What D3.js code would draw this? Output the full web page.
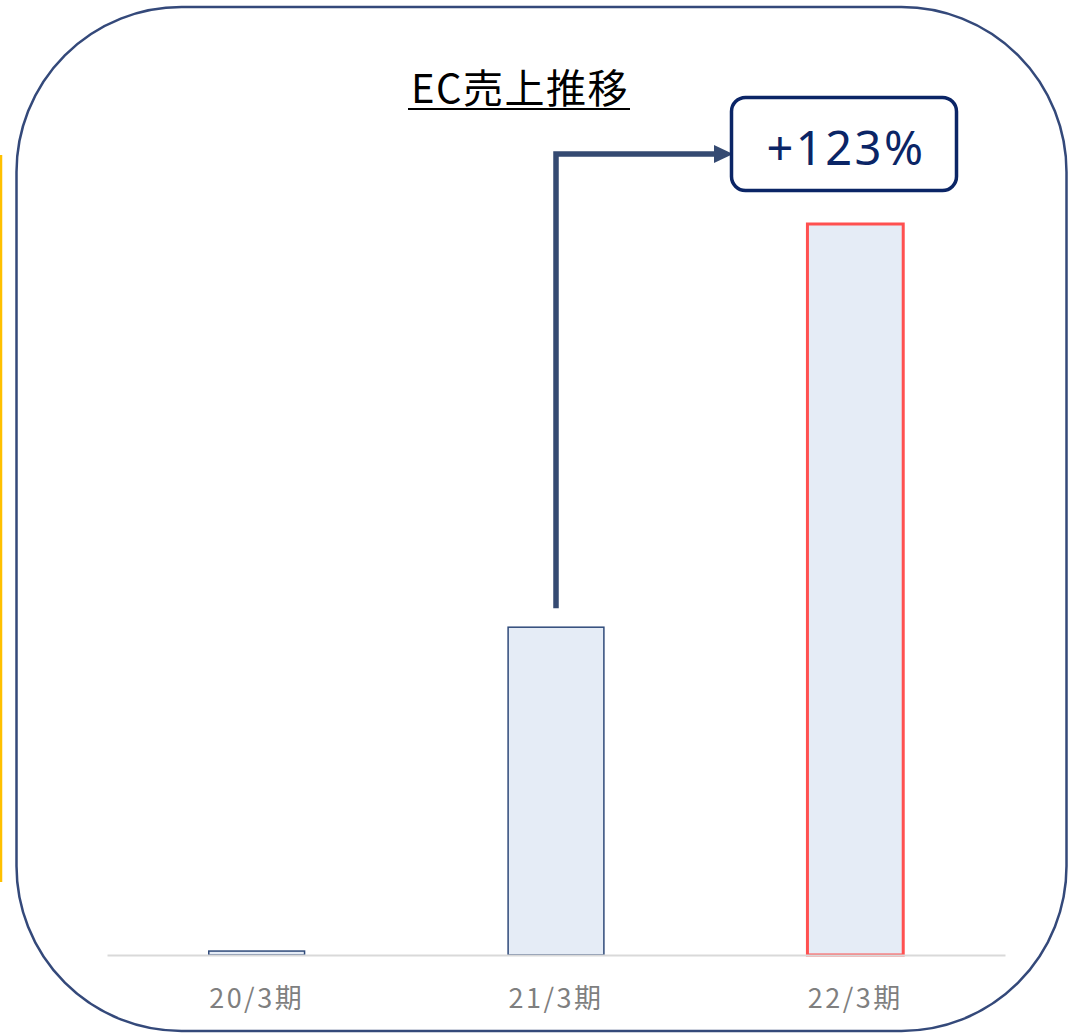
<!DOCTYPE html>
<html><head><meta charset="utf-8">
<script src="https://cdn.jsdelivr.net/npm/d3@7"></script>
<style>html,body{margin:0;padding:0;background:#fff;}svg{display:block;}</style>
</head><body>
<svg id="chart" width="1073" height="1034"></svg>
<script>
const categories = ["20/3期", "21/3期", "22/3期"];
const values = [1.2, 100, 223];
const highlight = [false, false, true];
const title = "EC売上推移";
const growthLabel = "+123%";

const svg = d3.select("#chart");

// frame
svg.append("rect").attr("x", 16.5).attr("y", 7).attr("width", 1050).attr("height", 1024)
  .attr("rx", 165).attr("ry", 165).attr("fill", "none").attr("stroke", "#34497A").attr("stroke-width", 2.5);
// yellow side line
svg.append("line").attr("x1", 1).attr("x2", 1).attr("y1", 155).attr("y2", 882)
  .attr("stroke", "#FFC000").attr("stroke-width", 2.5);

const x = d3.scaleBand().domain(categories).range([107, 1005]).paddingInner(0.68).paddingOuter(0.34);
const y = d3.scaleLinear().domain([0, 223]).range([955, 224]);

// bars
const data = categories.map((c, i) => ({c, v: values[i], h: highlight[i]}));
svg.append("g").selectAll("rect").data(data).join("rect")
  .attr("x", d => x(d.c))
  .attr("y", d => y(d.v))
  .attr("width", x.bandwidth())
  .attr("height", d => y(0) - y(d.v))
  .attr("fill", "#E5ECF6")
  .attr("stroke", d => d.h ? "#FF5050" : "#2F4A7A")
  .attr("stroke-width", d => d.h ? 3 : 1.5);

// axis
const axis = d3.axisBottom(x).tickSize(0).tickPadding(0);
const gx = svg.append("g").attr("transform", `translate(0,${y(0)})`).call(axis);
gx.select(".domain").attr("stroke", "#D9D9D9").attr("stroke-width", 2);
gx.selectAll("text").attr("dy", null).attr("y", 53)
  .attr("font-family", "'Noto Sans CJK JP', sans-serif")
  .attr("font-size", 27).attr("letter-spacing", 2.5).attr("fill", "#7F7F7F");

// title
svg.append("text").attr("x", 520).attr("y", 103).attr("text-anchor", "middle")
  .attr("font-family", "'Noto Sans CJK JP', sans-serif").attr("font-size", 40).attr("letter-spacing", 1.5).attr("fill", "#000")
  .text(title);
svg.append("line").attr("x1", 408).attr("x2", 630).attr("y1", 109).attr("y2", 109)
  .attr("stroke", "#000").attr("stroke-width", 2);

// arrow
const ax = x(categories[1]) + x.bandwidth() / 2;
const topY = 154;
svg.append("path")
  .attr("d", `M${ax},${y(values[1]) - 19} L${ax},${topY} L716,${topY}`)
  .attr("fill", "none").attr("stroke", "#354A72").attr("stroke-width", 5.5);
svg.append("path").attr("d", `M714,${topY - 9} L733,${topY} L714,${topY + 9} Z`).attr("fill", "#354A72");

// callout box
svg.append("rect").attr("x", 731.5).attr("y", 97.5).attr("width", 225).attr("height", 93)
  .attr("rx", 14).attr("ry", 14).attr("fill", "#fff").attr("stroke", "#0B2566").attr("stroke-width", 3.5);
svg.append("text").attr("x", 846).attr("y", 165).attr("text-anchor", "middle")
  .attr("font-family", "'Noto Sans', sans-serif").attr("font-size", 47).attr("letter-spacing", 2.5).attr("fill", "#0B2566")
  .text(growthLabel);
</script>
</body></html>
